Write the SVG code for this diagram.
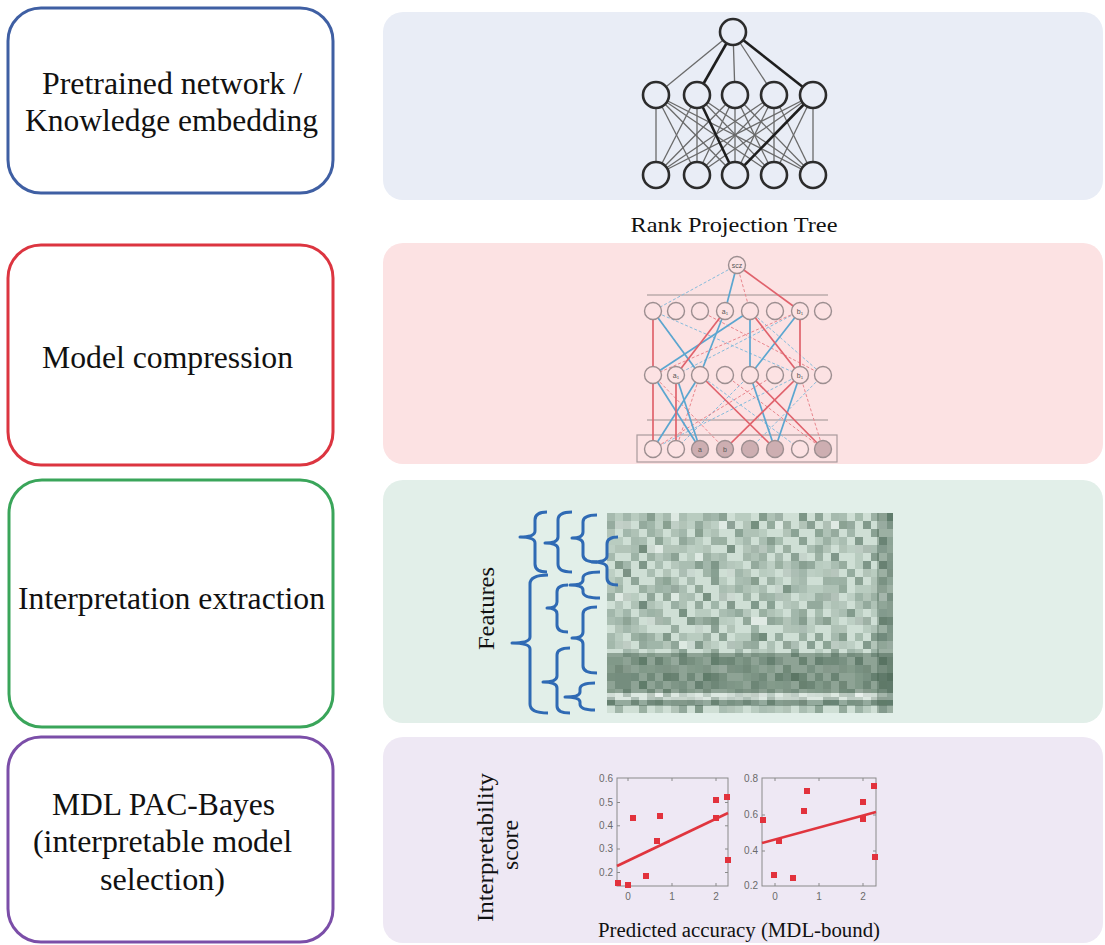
<svg xmlns="http://www.w3.org/2000/svg" width="1105" height="945" viewBox="0 0 1105 945">
  <style>
    .txt { font-family: "Liberation Serif", "Times New Roman", Tinos, "DejaVu Serif", serif; fill: #111; }
    .stage { fill: #fff; stroke-width: 3; }
    .stage-label { font-size: 31.5px; text-anchor: middle; }
    .nn-edge { stroke: #6a6a6a; stroke-width: 1.3; }
    .nn-bold { stroke: #1e1e1e; stroke-width: 2.6; }
    .nn-node { fill: #e9edf6; stroke: #2c2c2c; stroke-width: 2.6; }
    .rpt-node { fill: #fce2e3; stroke: #9c8e90; stroke-width: 1.4; }
    .rpt-shade { fill: #cdaeb1; stroke: #9c8e90; stroke-width: 1.4; }
    .rpt-red { stroke: #e0626c; stroke-width: 1.7; }
    .rpt-blue { stroke: #5ba6d0; stroke-width: 1.7; }
    .rpt-red-d { stroke: #e8868d; stroke-width: 1; stroke-dasharray: 3 2; }
    .rpt-blue-d { stroke: #86bcdc; stroke-width: 1; stroke-dasharray: 3 2; }
    .rpt-rule { stroke: #9a9090; stroke-width: 1.2; }
    .rpt-lbl { font-family: "Liberation Sans", sans-serif; font-size: 7px; fill: #555; text-anchor: middle; }
    .brace { fill: none; stroke: #2f6ab4; stroke-width: 3; stroke-linejoin: round; }
    .axes { fill: none; stroke: #8a8a8a; stroke-width: 1; }
    .tick { stroke: #8a8a8a; stroke-width: 1; }
    .ticklbl { font-family: "Liberation Sans", sans-serif; font-size: 10px; fill: #6a6a6a; }
    .fit { stroke: #e0353e; stroke-width: 2.6; }
    .pt { fill: #e2323c; }
  </style>
  <defs>
    <!-- overlapping cell patterns of different periods give an irregular heat-map texture -->
    <pattern id="hmA" x="607" y="513" width="56" height="40" patternUnits="userSpaceOnUse">
      <g fill="#3d5a48">
        <rect x="0" y="0" width="8" height="8" fill-opacity=".28"/>
        <rect x="24" y="0" width="8" height="8" fill-opacity=".15"/>
        <rect x="40" y="0" width="8" height="8" fill-opacity=".35"/>
        <rect x="8" y="8" width="8" height="8" fill-opacity=".18"/>
        <rect x="32" y="8" width="8" height="8" fill-opacity=".4"/>
        <rect x="48" y="8" width="8" height="8" fill-opacity=".12"/>
        <rect x="16" y="16" width="8" height="8" fill-opacity=".3"/>
        <rect x="40" y="16" width="8" height="8" fill-opacity=".15"/>
        <rect x="0" y="24" width="8" height="8" fill-opacity=".15"/>
        <rect x="24" y="24" width="8" height="8" fill-opacity=".28"/>
        <rect x="48" y="24" width="8" height="8" fill-opacity=".35"/>
        <rect x="8" y="32" width="8" height="8" fill-opacity=".2"/>
        <rect x="32" y="32" width="8" height="8" fill-opacity=".15"/>
      </g>
    </pattern>
    <pattern id="hmB" x="615" y="521" width="40" height="24" patternUnits="userSpaceOnUse">
      <g fill="#3d5a48">
        <rect x="8" y="0" width="8" height="8" fill-opacity=".2"/>
        <rect x="32" y="0" width="8" height="8" fill-opacity=".12"/>
        <rect x="16" y="8" width="8" height="8" fill-opacity=".22"/>
        <rect x="0" y="16" width="8" height="8" fill-opacity=".15"/>
        <rect x="24" y="16" width="8" height="8" fill-opacity=".25"/>
      </g>
    </pattern>
    <pattern id="hmC" x="607" y="513" width="88" height="56" patternUnits="userSpaceOnUse">
      <g fill="#3d5a48">
        <rect x="16" y="0" width="8" height="8" fill-opacity=".3"/>
        <rect x="56" y="8" width="8" height="8" fill-opacity=".35"/>
        <rect x="0" y="16" width="8" height="8" fill-opacity=".2"/>
        <rect x="40" y="16" width="16" height="8" fill-opacity=".22"/>
        <rect x="72" y="24" width="8" height="16" fill-opacity=".22"/>
        <rect x="32" y="32" width="8" height="8" fill-opacity=".4"/>
        <rect x="48" y="40" width="8" height="8" fill-opacity=".18"/>
        <rect x="80" y="48" width="8" height="8" fill-opacity=".25"/>
        <rect x="8" y="48" width="16" height="8" fill-opacity=".3"/>
      </g>
    </pattern>
    <pattern id="hmD" x="607" y="513" width="104" height="72" patternUnits="userSpaceOnUse">
      <g fill="#ffffff">
        <rect x="8" y="8" width="16" height="8" fill-opacity=".35"/>
        <rect x="64" y="0" width="8" height="16" fill-opacity=".3"/>
        <rect x="40" y="32" width="16" height="8" fill-opacity=".35"/>
        <rect x="88" y="40" width="8" height="8" fill-opacity=".3"/>
        <rect x="16" y="56" width="8" height="8" fill-opacity=".35"/>
        <rect x="72" y="56" width="16" height="8" fill-opacity=".3"/>
      </g>
    </pattern>
    <pattern id="hmE" x="607" y="513" width="120" height="88" patternUnits="userSpaceOnUse">
      <g fill="#3d5a48">
        <rect x="0" y="8" width="8" height="8" fill-opacity=".3"/>
        <rect x="40" y="0" width="8" height="16" fill-opacity=".22"/>
        <rect x="88" y="16" width="8" height="8" fill-opacity=".35"/>
        <rect x="24" y="32" width="16" height="8" fill-opacity=".25"/>
        <rect x="64" y="40" width="8" height="8" fill-opacity=".3"/>
        <rect x="104" y="48" width="8" height="16" fill-opacity=".25"/>
        <rect x="8" y="64" width="8" height="8" fill-opacity=".25"/>
        <rect x="56" y="72" width="16" height="8" fill-opacity=".3"/>
        <rect x="96" y="80" width="8" height="8" fill-opacity=".22"/>
        <rect x="72" y="8" width="8" height="8" fill-opacity=".2"/>
      </g>
    </pattern>
    <filter id="soft" x="-2%" y="-2%" width="104%" height="104%">
      <feGaussianBlur stdDeviation="0.6"/>
    </filter>
    <rect id="marker" x="-3" y="-3" width="6" height="6"/>
  </defs>

  <rect width="1105" height="945" fill="#fff"/>

  <!-- left column: pipeline stages -->
  <g id="stage-pretrained">
    <rect class="stage" x="8" y="8" width="325" height="185" rx="33" stroke="#3f5fa3"/>
    <text class="txt stage-label" x="172" y="94" textLength="260" lengthAdjust="spacingAndGlyphs">Pretrained network /</text>
    <text class="txt stage-label" x="171.5" y="131" textLength="293" lengthAdjust="spacingAndGlyphs">Knowledge embedding</text>
  </g>
  <g id="stage-compression">
    <rect class="stage" x="8" y="245" width="325" height="220" rx="33" stroke="#dc3540"/>
    <text class="txt stage-label" x="167.5" y="368" textLength="251" lengthAdjust="spacingAndGlyphs">Model compression</text>
  </g>
  <g id="stage-interpretation">
    <rect class="stage" x="9" y="480" width="324" height="247" rx="33" stroke="#3aa55a"/>
    <text class="txt stage-label" x="171.5" y="609" textLength="307" lengthAdjust="spacingAndGlyphs">Interpretation extraction</text>
  </g>
  <g id="stage-selection">
    <rect class="stage" x="8" y="737" width="325" height="205" rx="33" stroke="#7b4ea8"/>
    <text class="txt stage-label" x="163.5" y="815" textLength="223" lengthAdjust="spacingAndGlyphs">MDL PAC-Bayes</text>
    <text class="txt stage-label" x="162.5" y="852" textLength="259" lengthAdjust="spacingAndGlyphs">(interpretable model</text>
    <text class="txt stage-label" x="162.5" y="890" textLength="125" lengthAdjust="spacingAndGlyphs">selection)</text>
  </g>

  <!-- right column: illustration panels -->
  <g id="panel-network">
    <rect x="383" y="12" width="720" height="188" rx="20" fill="#e9edf6"/>
    <g id="nn-edges">
      <g class="nn-edge">
        <line x1="733" y1="32" x2="656" y2="95"/>
        <line x1="733" y1="32" x2="735" y2="95"/>
        <line x1="733" y1="32" x2="774" y2="95"/>
        <line x1="656" y1="95" x2="656" y2="175"/><line x1="656" y1="95" x2="697" y2="175"/><line x1="656" y1="95" x2="735" y2="175"/><line x1="656" y1="95" x2="774" y2="175"/><line x1="656" y1="95" x2="813" y2="175"/>
        <line x1="697" y1="95" x2="656" y2="175"/><line x1="697" y1="95" x2="697" y2="175"/><line x1="697" y1="95" x2="774" y2="175"/><line x1="697" y1="95" x2="813" y2="175"/>
        <line x1="735" y1="95" x2="656" y2="175"/><line x1="735" y1="95" x2="697" y2="175"/><line x1="735" y1="95" x2="735" y2="175"/><line x1="735" y1="95" x2="774" y2="175"/><line x1="735" y1="95" x2="813" y2="175"/>
        <line x1="774" y1="95" x2="656" y2="175"/><line x1="774" y1="95" x2="697" y2="175"/><line x1="774" y1="95" x2="735" y2="175"/><line x1="774" y1="95" x2="774" y2="175"/><line x1="774" y1="95" x2="813" y2="175"/>
        <line x1="813" y1="95" x2="656" y2="175"/><line x1="813" y1="95" x2="697" y2="175"/><line x1="813" y1="95" x2="774" y2="175"/><line x1="813" y1="95" x2="813" y2="175"/>
      </g>
      <g class="nn-bold">
        <line x1="733" y1="32" x2="697" y2="95"/>
        <line x1="733" y1="32" x2="813" y2="95"/>
        <line x1="697" y1="95" x2="735" y2="175"/>
        <line x1="813" y1="95" x2="735" y2="175"/>
      </g>
    </g>
    <g id="nn-nodes">
      <circle class="nn-node" cx="733" cy="32" r="13"/>
      <circle class="nn-node" cx="656" cy="95" r="13"/>
      <circle class="nn-node" cx="697" cy="95" r="13"/>
      <circle class="nn-node" cx="735" cy="95" r="13"/>
      <circle class="nn-node" cx="774" cy="95" r="13"/>
      <circle class="nn-node" cx="813" cy="95" r="13"/>
      <circle class="nn-node" cx="656" cy="175" r="13"/>
      <circle class="nn-node" cx="697" cy="175" r="13"/>
      <circle class="nn-node" cx="735" cy="175" r="13"/>
      <circle class="nn-node" cx="774" cy="175" r="13"/>
      <circle class="nn-node" cx="813" cy="175" r="13"/>
    </g>
  </g>

  <text class="txt" x="734" y="232" font-size="21.5" text-anchor="middle" textLength="207" lengthAdjust="spacingAndGlyphs">Rank Projection Tree</text>

  <g id="panel-compression">
    <rect x="383" y="243" width="720" height="221" rx="20" fill="#fce2e3"/>
    <line class="rpt-rule" x1="647" y1="295" x2="828" y2="295"/>
    <line class="rpt-rule" x1="647" y1="420" x2="828" y2="420"/>
    <rect x="637" y="435" width="200" height="27" fill="none" stroke="#a89a9c" stroke-width="1.2"/>
    <g id="rpt-edges">
      <g class="rpt-blue-d">
        <line x1="737" y1="265" x2="653" y2="311"/>
        <line x1="653" y1="311" x2="800" y2="375"/>
        <line x1="800" y1="311" x2="676" y2="375"/>
        <line x1="750" y1="311" x2="823" y2="375"/>
        <line x1="700" y1="375" x2="800" y2="449"/>
        <line x1="800" y1="375" x2="653" y2="449"/>
        <line x1="750" y1="375" x2="676" y2="449"/>
        <line x1="823" y1="375" x2="750" y2="449"/>
      </g>
      <g class="rpt-red-d">
        <line x1="737" y1="265" x2="750" y2="311"/>
        <line x1="653" y1="311" x2="700" y2="375"/>
        <line x1="700" y1="311" x2="823" y2="375"/>
        <line x1="800" y1="311" x2="653" y2="375"/>
        <line x1="653" y1="375" x2="725" y2="449"/>
        <line x1="700" y1="375" x2="676" y2="449"/>
        <line x1="725" y1="375" x2="823" y2="449"/>
        <line x1="775" y1="375" x2="653" y2="449"/>
        <line x1="800" y1="375" x2="823" y2="449"/>
      </g>
      <g class="rpt-blue">
        <line x1="737" y1="265" x2="725" y2="311"/>
        <line x1="653" y1="311" x2="700" y2="375"/>
        <line x1="725" y1="311" x2="700" y2="375"/>
        <line x1="750" y1="311" x2="653" y2="375"/>
        <line x1="750" y1="311" x2="750" y2="375"/>
        <line x1="800" y1="311" x2="750" y2="375"/>
        <line x1="653" y1="375" x2="700" y2="449"/>
        <line x1="676" y1="375" x2="700" y2="449"/>
        <line x1="700" y1="375" x2="653" y2="449"/>
        <line x1="750" y1="375" x2="775" y2="449"/>
        <line x1="800" y1="375" x2="775" y2="449"/>
      </g>
      <g class="rpt-red">
        <line x1="737" y1="265" x2="800" y2="311"/>
        <line x1="653" y1="311" x2="653" y2="375"/>
        <line x1="725" y1="311" x2="676" y2="375"/>
        <line x1="750" y1="311" x2="800" y2="375"/>
        <line x1="800" y1="311" x2="800" y2="375"/>
        <line x1="653" y1="375" x2="653" y2="449"/>
        <line x1="676" y1="375" x2="676" y2="449"/>
        <line x1="700" y1="375" x2="775" y2="449"/>
        <line x1="750" y1="375" x2="823" y2="449"/>
        <line x1="800" y1="375" x2="725" y2="449"/>
      </g>
    </g>
    <g id="rpt-nodes">
      <circle class="rpt-node" cx="737" cy="265" r="8.5"/>
      <text class="rpt-lbl" x="737" y="267.5">scz</text>
      <circle class="rpt-node" cx="653" cy="311" r="8.5"/>
      <circle class="rpt-node" cx="676" cy="311" r="8.5"/>
      <circle class="rpt-node" cx="700" cy="311" r="8.5"/>
      <circle class="rpt-node" cx="725" cy="311" r="8.5"/>
      <circle class="rpt-node" cx="750" cy="311" r="8.5"/>
      <circle class="rpt-node" cx="775" cy="311" r="8.5"/>
      <circle class="rpt-node" cx="800" cy="311" r="8.5"/>
      <circle class="rpt-node" cx="823" cy="311" r="8.5"/>
      <text class="rpt-lbl" x="725" y="313.5">a₁</text>
      <text class="rpt-lbl" x="800" y="313.5">b₁</text>
      <circle class="rpt-node" cx="653" cy="375" r="8.5"/>
      <circle class="rpt-node" cx="676" cy="375" r="8.5"/>
      <circle class="rpt-node" cx="700" cy="375" r="8.5"/>
      <circle class="rpt-node" cx="725" cy="375" r="8.5"/>
      <circle class="rpt-node" cx="750" cy="375" r="8.5"/>
      <circle class="rpt-node" cx="775" cy="375" r="8.5"/>
      <circle class="rpt-node" cx="800" cy="375" r="8.5"/>
      <circle class="rpt-node" cx="823" cy="375" r="8.5"/>
      <text class="rpt-lbl" x="676" y="377.5">a₁</text>
      <text class="rpt-lbl" x="800" y="377.5">b₁</text>
      <circle class="rpt-node" cx="653" cy="449" r="8.5"/>
      <circle class="rpt-node" cx="676" cy="449" r="8.5"/>
      <circle class="rpt-shade" cx="700" cy="449" r="8.5"/>
      <circle class="rpt-shade" cx="725" cy="449" r="8.5"/>
      <circle class="rpt-shade" cx="750" cy="449" r="8.5"/>
      <circle class="rpt-shade" cx="775" cy="449" r="8.5"/>
      <circle class="rpt-node" cx="800" cy="449" r="8.5"/>
      <circle class="rpt-shade" cx="823" cy="449" r="8.5"/>
      <text class="rpt-lbl" x="700" y="451.5">a</text>
      <text class="rpt-lbl" x="725" y="451.5">b</text>
    </g>
  </g>

  <g id="panel-interpretation">
    <rect x="383" y="480" width="720" height="243" rx="20" fill="#e2efe9"/>
    <g id="heatmap" filter="url(#soft)">
      <rect x="607" y="513" width="286" height="200" fill="#cfdfd5"/>
      <rect x="607" y="513" width="286" height="200" fill="url(#hmD)"/>
      <rect x="607" y="513" width="286" height="200" fill="url(#hmA)"/>
      <rect x="607" y="513" width="286" height="200" fill="url(#hmB)"/>
      <rect x="607" y="513" width="286" height="200" fill="url(#hmC)"/>
      <rect x="607" y="513" width="286" height="200" fill="url(#hmE)"/>
      <rect x="607" y="653" width="286" height="40" fill="#3d5a48" fill-opacity=".45"/>
      <rect x="607" y="693" width="286" height="7" fill="#ffffff" fill-opacity=".3"/>
      <rect x="607" y="700" width="286" height="6" fill="#3d5a48" fill-opacity=".4"/>
      <rect x="877" y="513" width="16" height="200" fill="#3d5a48" fill-opacity=".35"/>
    </g>
    <g id="dendrogram">
      <path class="brace" d="M547,512 Q535,512 535,520 L535,531 Q535,537 520,537 Q535,537 535,543 L535,564 Q535,572 547,572"/>
      <path class="brace" d="M572,512 Q558,512 558,520 L558,537 Q558,543 545,543 Q558,543 558,549 L558,564 Q558,572 572,572"/>
      <path class="brace" d="M597,515 Q583,515 583,522 L583,532 Q583,538 572,538 Q583,538 583,544 L583,555 Q583,562 597,562"/>
      <path class="brace" d="M618,537 Q607,537 607,544 L607,556 Q607,562 592,562 Q607,562 607,568 L607,578 Q607,585 618,585"/>
      <path class="brace" d="M548,575 Q530,575 530,584 L530,637 Q530,643 512,643 Q530,643 530,649 L530,704 Q530,713 548,713"/>
      <path class="brace" d="M568,585 Q557,585 557,592 L557,602 Q557,608 547,608 Q557,608 557,614 L557,625 Q557,632 568,632"/>
      <path class="brace" d="M600,572 Q583,572 583,578 L583,580 Q583,585 570,585 Q583,585 583,590 L583,592 Q583,598 600,598"/>
      <path class="brace" d="M597,607 Q583,607 583,614 L583,632 Q583,638 572,638 Q583,638 583,644 L583,666 Q583,673 597,673"/>
      <path class="brace" d="M570,648 Q557,648 557,655 L557,676 Q557,682 543,682 Q557,682 557,688 L557,706 Q557,713 570,713"/>
      <path class="brace" d="M595,683 Q580,683 580,689 L580,692 Q580,697 565,697 Q580,697 580,702 L580,704 Q580,710 595,710"/>
    </g>
    <text class="txt" transform="translate(494,608.5) rotate(-90)" font-size="24" text-anchor="middle" textLength="83" lengthAdjust="spacingAndGlyphs">Features</text>
  </g>

  <g id="panel-selection">
    <rect x="383" y="737" width="720" height="206" rx="20" fill="#eee8f4"/>
    <text class="txt" transform="translate(493,847.5) rotate(-90)" font-size="24" text-anchor="middle" textLength="149" lengthAdjust="spacingAndGlyphs">Interpretability</text>
    <text class="txt" transform="translate(518,845) rotate(-90)" font-size="24" text-anchor="middle" textLength="50" lengthAdjust="spacingAndGlyphs">score</text>

    <g id="plot-left">
      <rect class="axes" x="617" y="778" width="111" height="108"/>
      <g class="tick">
        <line x1="628" y1="886" x2="628" y2="883"/><line x1="672" y1="886" x2="672" y2="883"/><line x1="716" y1="886" x2="716" y2="883"/>
        <line x1="628" y1="778" x2="628" y2="781"/><line x1="672" y1="778" x2="672" y2="781"/><line x1="716" y1="778" x2="716" y2="781"/>
        <line x1="617" y1="802.5" x2="620" y2="802.5"/><line x1="617" y1="825.8" x2="620" y2="825.8"/><line x1="617" y1="849" x2="620" y2="849"/><line x1="617" y1="872.5" x2="620" y2="872.5"/>
        <line x1="728" y1="802.5" x2="725" y2="802.5"/><line x1="728" y1="825.8" x2="725" y2="825.8"/><line x1="728" y1="849" x2="725" y2="849"/><line x1="728" y1="872.5" x2="725" y2="872.5"/>
      </g>
      <g class="ticklbl" text-anchor="end">
        <text x="613" y="782">0.6</text>
        <text x="613" y="806">0.5</text>
        <text x="613" y="829">0.4</text>
        <text x="613" y="852">0.3</text>
        <text x="613" y="876">0.2</text>
      </g>
      <g class="ticklbl" text-anchor="middle">
        <text x="628" y="900">0</text>
        <text x="672" y="900">1</text>
        <text x="716" y="900">2</text>
      </g>
      <line class="fit" x1="617" y1="866" x2="728" y2="813"/>
      <g class="pt">
        <use href="#marker" x="618" y="883"/>
        <use href="#marker" x="628" y="885"/>
        <use href="#marker" x="633" y="818"/>
        <use href="#marker" x="646" y="876"/>
        <use href="#marker" x="657" y="841"/>
        <use href="#marker" x="660" y="816"/>
        <use href="#marker" x="716" y="818"/>
        <use href="#marker" x="716" y="800"/>
        <use href="#marker" x="727" y="797"/>
        <use href="#marker" x="728" y="860"/>
      </g>
    </g>

    <g id="plot-right">
      <rect class="axes" x="762" y="778" width="114" height="108"/>
      <g class="tick">
        <line x1="775" y1="886" x2="775" y2="883"/><line x1="819" y1="886" x2="819" y2="883"/><line x1="863" y1="886" x2="863" y2="883"/>
        <line x1="775" y1="778" x2="775" y2="781"/><line x1="819" y1="778" x2="819" y2="781"/><line x1="863" y1="778" x2="863" y2="781"/>
        <line x1="762" y1="815" x2="765" y2="815"/><line x1="762" y1="851" x2="765" y2="851"/>
        <line x1="876" y1="815" x2="873" y2="815"/><line x1="876" y1="851" x2="873" y2="851"/>
      </g>
      <g class="ticklbl" text-anchor="end">
        <text x="758" y="782">0.8</text>
        <text x="758" y="818">0.6</text>
        <text x="758" y="854">0.4</text>
        <text x="758" y="889">0.2</text>
      </g>
      <g class="ticklbl" text-anchor="middle">
        <text x="775" y="900">0</text>
        <text x="819" y="900">1</text>
        <text x="863" y="900">2</text>
      </g>
      <line class="fit" x1="762" y1="843" x2="876" y2="812"/>
      <g class="pt">
        <use href="#marker" x="763" y="820"/>
        <use href="#marker" x="774" y="875"/>
        <use href="#marker" x="779" y="841"/>
        <use href="#marker" x="793" y="878"/>
        <use href="#marker" x="804" y="811"/>
        <use href="#marker" x="807" y="791"/>
        <use href="#marker" x="863" y="819"/>
        <use href="#marker" x="863" y="802"/>
        <use href="#marker" x="874" y="786"/>
        <use href="#marker" x="875" y="857"/>
      </g>
    </g>

    <text class="txt" x="739" y="937" font-size="20.5" text-anchor="middle" textLength="282" lengthAdjust="spacingAndGlyphs">Predicted accuracy (MDL-bound)</text>
  </g>
</svg>
